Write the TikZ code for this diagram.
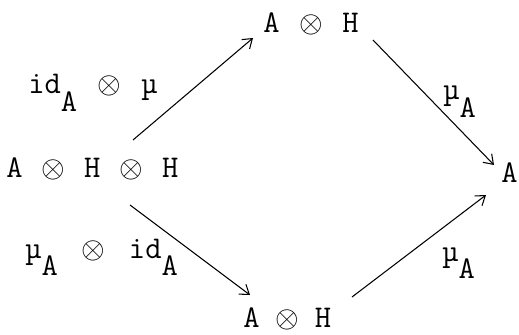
\documentclass[tikz,border=0pt]{standalone}
\usetikzlibrary{arrows.meta, positioning}

\newcommand{\lowA}{\raisebox{-0.55em}{A}}
\newcommand{\tens}[1]{\hspace{#1}$\otimes$\hspace{#1}}

\begin{document}
\begin{tikzpicture}[
	x=0.02cm,
	y=-0.02cm,
	obj/.style={font=\ttfamily\fontsize{18}{20}\selectfont, inner sep=0pt, anchor=base west},
	lbl/.style={font=\ttfamily\fontsize{18}{20}\selectfont, inner sep=0pt, anchor=base west},
	arr/.style={-{Straight Barb[length=5pt,width=7pt]}, line width=0.6pt}
]

\useasboundingbox (0,0) rectangle (519,334);

\node[obj] (lhs) at (6,177) {A\tens{0.6em}H\tens{0.6em}H};
\node[obj] (top) at (263,33) {A\tens{0.62em}H};
\node[obj] (bot) at (243,327) {A\tens{0.5em}H};
\node[obj] (rhs) at (501,182) {A};

\node[lbl] (idmu) at (28,94) {id\lowA\tens{0.64em}µ};
\node[lbl] (mutop) at (443,100) {µ\lowA};
\node[lbl] (muid) at (25,258) {µ\lowA\tens{0.75em}id\lowA};
\node[lbl] (mubot) at (442,261) {µ\lowA};

\draw[arr] ([xshift=2.54cm, yshift=0.74cm]lhs.base west) -- ([xshift=-0.2cm, yshift=-0.1cm]top.base west);
\draw[arr] ([xshift=2.2cm, yshift=-0.14cm]top.base west) -- ([xshift=-0.14cm, yshift=0.34cm]rhs.base west);
\draw[arr] ([xshift=2.48cm, yshift=-0.56cm]lhs.base west) -- ([xshift=0.14cm, yshift=0.64cm]bot.base west);
\draw[arr] ([xshift=2.18cm, yshift=0.6cm]bot.base west) -- ([xshift=-0.3cm, yshift=-0.26cm]rhs.base west);

\end{tikzpicture}
\end{document}
